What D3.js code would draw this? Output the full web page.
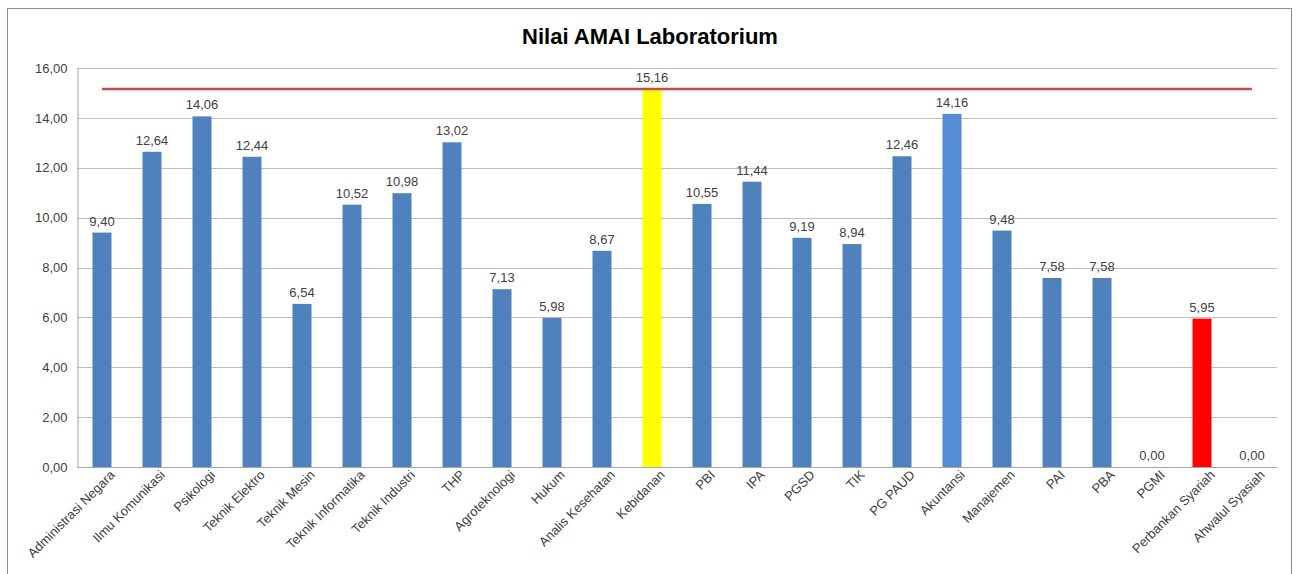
<!DOCTYPE html>
<html><head><meta charset="utf-8">
<script src="https://cdn.jsdelivr.net/npm/d3@7"></script>
<style>body{margin:0;background:#fff}svg{display:block}</style>
</head><body>
<svg id="c" width="1297" height="574"></svg>
<script>
const categories = ["Administrasi Negara","Ilmu Komunikasi","Psikologi","Teknik Elektro","Teknik Mesin","Teknik Informatika","Teknik Industri","THP","Agroteknologi","Hukum","Analis Kesehatan","Kebidanan","PBI","IPA","PGSD","TIK","PG PAUD","Akuntansi","Manajemen","PAI","PBA","PGMI","Perbankan Syariah","Ahwalul Syasiah"];
const values = [9.40,12.64,14.06,12.44,6.54,10.52,10.98,13.02,7.13,5.98,8.67,15.16,10.55,11.44,9.19,8.94,12.46,14.16,9.48,7.58,7.58,0.00,5.95,0.00];
const targetValue = 15.16;
const yTicks = [0,2,4,6,8,10,12,14,16];
const title = "Nilai AMAI Laboratorium";
const highlight = {"Kebidanan":"#FFFF00","Akuntansi":"#558ED5","Perbankan Syariah":"#FF0000"};

const svg = d3.select("#c");
const font = "'Liberation Sans', Arial, sans-serif";
svg.append("rect").attr("x",7.5).attr("y",8.5).attr("width",1284).attr("height",580)
  .attr("fill","#fff").attr("stroke","#8c8c8c").attr("stroke-width",1);

const L=77, R=1277, T=68, B=467;
const x = d3.scaleBand().domain(categories).range([L,R]).paddingInner(0.62).paddingOuter(0.31);
const y = d3.scaleLinear().domain([0,16]).range([B,T]);
const fmt = v => d3.format(".2f")(v).replace(".",",");

svg.append("text").attr("x",650).attr("y",44).attr("text-anchor","middle")
  .attr("font-family",font).attr("font-weight","bold").attr("font-size",22).attr("fill","#000").text(title);

// grid
svg.append("g").selectAll("line").data(yTicks.filter(d=>d>0)).join("line")
  .attr("x1",L).attr("x2",R).attr("y1",d=>Math.round(y(d))+0.5).attr("y2",d=>Math.round(y(d))+0.5)
  .attr("stroke","#BEBEBE").attr("stroke-width",1);

const ya = svg.append("g").attr("transform",`translate(${L+0.5},0)`)
  .call(d3.axisLeft(y).tickValues(yTicks).tickFormat(fmt).tickSize(0).tickPadding(10));
ya.select(".domain").attr("stroke","#A6A6A6");
ya.selectAll("text").attr("font-family",font).attr("font-size",13).attr("fill","#404040");

const xa = svg.append("g").attr("transform",`translate(0,${Math.round(B)+0.5})`)
  .call(d3.axisBottom(x).tickSize(0).tickPadding(9));
xa.select(".domain").attr("stroke","#A6A6A6").attr("d",`M${L},0H${R}`);
xa.selectAll("text").attr("font-family",font).attr("font-size",13).attr("fill","#404040")
  .attr("text-anchor","end").attr("dx","0.3em").attr("dy","0.5em")
  .attr("transform","rotate(-45)");

svg.append("g").selectAll("rect").data(categories).join("rect")
  .attr("x",d=>x(d)).attr("width",x.bandwidth())
  .attr("y",(d,i)=>y(values[i])).attr("height",(d,i)=>B-y(values[i]))
  .attr("fill",d=>highlight[d]||"#4F81BD");

svg.append("g").selectAll("text").data(categories).join("text")
  .attr("x",d=>x(d)+x.bandwidth()/2).attr("y",(d,i)=>y(values[i])-7)
  .attr("text-anchor","middle").attr("font-family",font).attr("font-size",13).attr("fill","#404040")
  .text((d,i)=>fmt(values[i]));

const line = d3.line().x(d=>x(d)+x.bandwidth()/2).y(()=>y(targetValue));
svg.append("path").datum(categories).attr("d",line).attr("fill","none")
  .attr("stroke","#C0504D").attr("stroke-width",2.5);
</script>
</body></html>
